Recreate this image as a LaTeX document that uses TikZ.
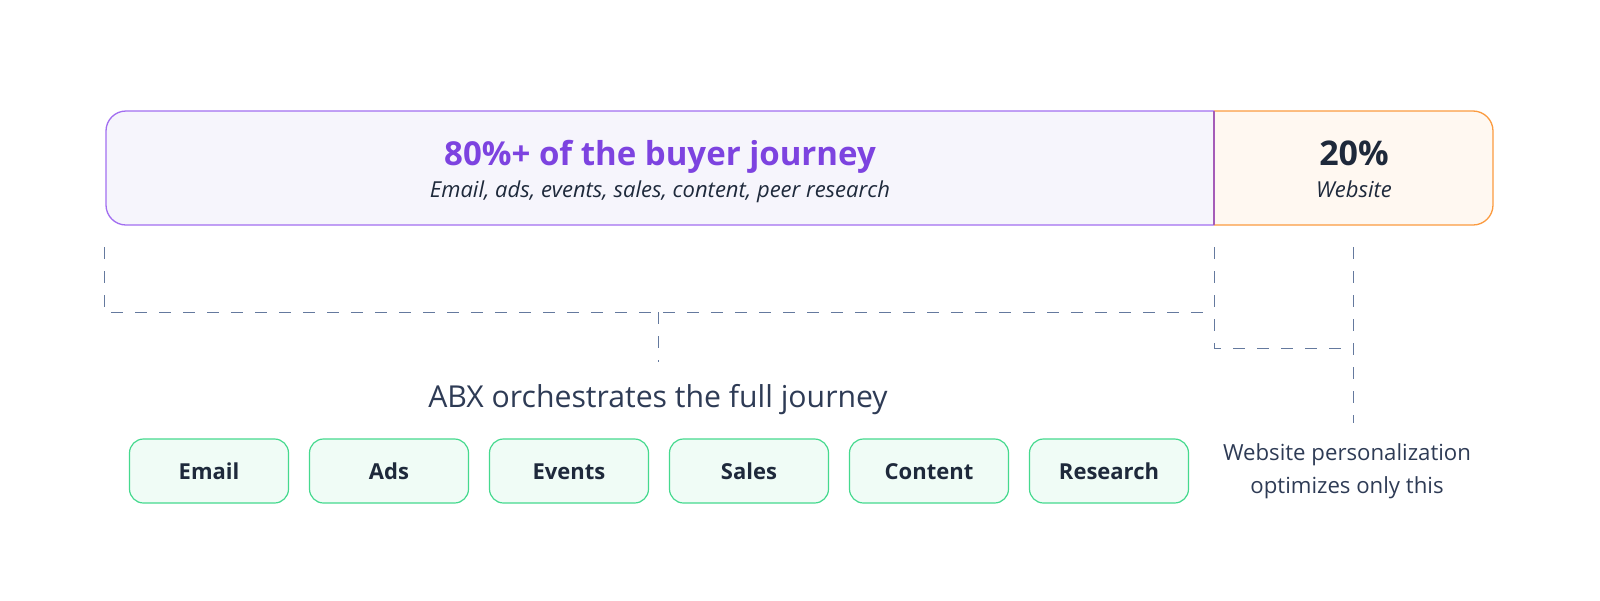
\documentclass[tikz,border=0pt]{standalone}
\usepackage{fontspec}
\setmainfont{Open Sans}
\usetikzlibrary{calc,positioning}

\definecolor{barviolet}{HTML}{A26EF0}
\definecolor{barfill}{HTML}{F6F5FC}
\definecolor{titleviolet}{HTML}{7D43E0}
\definecolor{webline}{HTML}{FB9B40}
\definecolor{webfill}{HTML}{FFF8F1}
\definecolor{divline}{HTML}{A55CB8}
\definecolor{inkdark}{HTML}{1E293B}
\definecolor{inkslate}{HTML}{2E3B55}
\definecolor{dashline}{HTML}{64799E}
\definecolor{chanline}{HTML}{45D98E}
\definecolor{chanfill}{HTML}{F0FCF6}

\begin{document}
\begin{tikzpicture}[x=0.5pt,y=-0.5pt,
  chan/.style={draw=chanline, fill=chanfill, line width=0.6pt, rounded corners=7pt,
    minimum width=79.5pt, minimum height=32pt, inner sep=0pt,
    text height=8pt, text depth=0pt, text=inkdark, font=\fontsize{11}{13}\selectfont\bfseries},
  bracket/.style={dashline, line width=0.5pt, dash pattern=on 6pt off 6pt}]
\useasboundingbox (0,0) rectangle (1600,600);

% the bar
\begin{scope}
\clip (90,100) rectangle (1214,240);
\draw[barviolet, fill=barfill, line width=0.65pt, rounded corners=10pt] (106,111) rectangle (1260,225);
\end{scope}
\begin{scope}
\clip (1214,100) rectangle (1510,240);
\draw[webline, fill=webfill, line width=0.65pt, rounded corners=10pt] (1160,111) rectangle (1493,225);
\end{scope}
\draw[divline, line width=0.65pt] (1214,111) -- (1214,225);

\node at (660,165) (journey)[anchor=base, text=titleviolet, font=\fontsize{16.5}{20}\selectfont\bfseries] {80\%+ of the buyer journey};
\node at (660,197) (journeysub)[anchor=base, text=inkdark, font=\fontsize{11}{13}\selectfont\itshape] {Email, ads, events, sales, content, peer research};
\node at (1354,165) (web)[anchor=base, text=inkdark, font=\fontsize{17}{20}\selectfont\bfseries] {20\%};
\node at (1354,197) (websub)[anchor=base, text=inkdark, font=\fontsize{11}{13}\selectfont\itshape] {Website};

% brackets
\coordinate (lefttop) at (104,247);
\coordinate (divtop) at (1214,247);
\coordinate (webtop) at (1353,247);
\coordinate (leftbot) at (104,312);
\coordinate (divbot) at (1214,312);
\coordinate (divlow) at (1214,348);
\coordinate (weblow) at (1353,348);
\coordinate (midtop) at (658,312);
\coordinate (midbot) at (658,362);
\coordinate (webbot) at (1353,423);
\draw[bracket] (lefttop) -- (leftbot) -- (divbot);
\draw[bracket] (divtop) -- (divlow) -- (weblow);
\draw[bracket] (webtop) -- (webbot);
\draw[bracket] (midtop) -- (midbot);

\node at (658,407) (abx)[anchor=base, text=inkslate, font=\fontsize{15.1}{17}\selectfont] {ABX orchestrates the full journey};

% channels
\node at (209,471) (email)[chan] {Email};
\node[chan, right=9.9pt of email] (ads) {Ads};
\node[chan, right=9.9pt of ads] (events) {Events};
\node[chan, right=9.9pt of events] (sales) {Sales};
\node[chan, right=9.9pt of sales] (content) {Content};
\node[chan, right=9.9pt of content] (research) {Research};

\node at (1347,443) (note)[anchor=north, align=center, inner sep=0pt, text=inkslate, font=\fontsize{11.1}{16.8}\selectfont] {Website personalization\\optimizes only this};
\end{tikzpicture}
\end{document}
